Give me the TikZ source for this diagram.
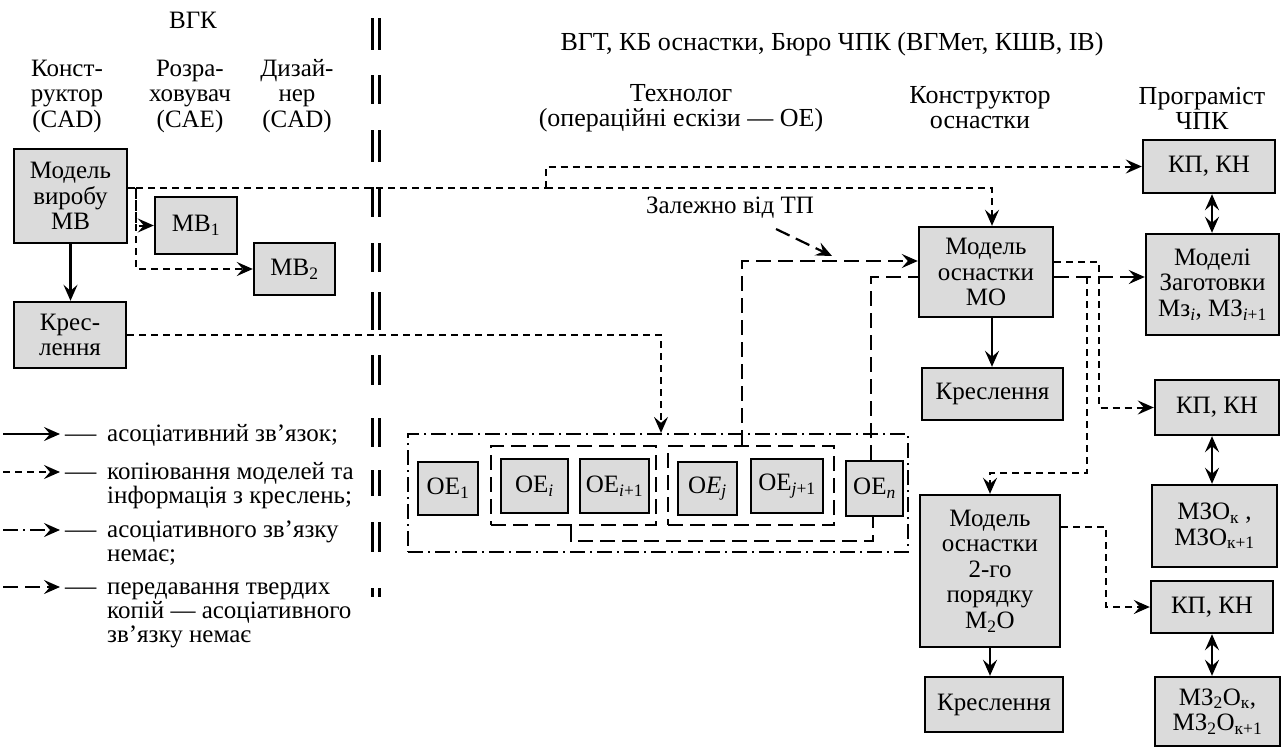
\documentclass[tikz,border=0pt]{standalone}
\usepackage{fontspec}
\setmainfont{Liberation Serif}
\usetikzlibrary{arrows.meta,calc}
\definecolor{boxgray}{RGB}{219,219,219}
\newcommand\sbs[1]{\textsubscript{#1}}
\newcommand\lgdash{\scalebox{1.25}[1]{—}}

\begin{document}
\begin{tikzpicture}[x=1pt,y=-1pt,
  every node/.style={font=\fontsize{25}{25.5}\selectfont, inner sep=0pt, align=center},
  hdr/.style={font=\fontsize{26}{25}\selectfont},
  box/.style={draw, line width=2.4pt, fill=boxgray},
  >={Stealth[length=16pt,width=14pt,inset=6pt]},
  assoc/.style={line width=2.2pt},
  copy/.style={line width=2pt, dash pattern=on 7pt off 5pt},
  hard/.style={line width=2.2pt, dash pattern=on 15pt off 7pt},
  dashdot/.style={line width=2.2pt, dash pattern=on 15pt off 5pt on 2pt off 5pt},
  grp/.style={draw, hard},
]
\useasboundingbox (0,0) rectangle (1281,750);

% ---- headers ----
\node (hvgk) at (193,20) {ВГК};
\node (hc1) at (67,96) {Конст-\\руктор\\(CAD)};
\node (hc2) at (190,96) {Розра-\\ховувач\\(CAE)};
\node (hc3) at (297,96) {Дизай-\\нер\\(CAD)};
\node[hdr] (hvgt) at (832,44) {ВГТ, КБ оснастки, Бюро ЧПК (ВГМет, КШВ, ІВ)};
\node[hdr] (htech) at (681,108) {Технолог\\(операційні ескізи — ОЕ)};
\node[hdr] (hkon) at (980,108) {Конструктор\\оснастки};
\node[hdr] (hprog) at (1202,108) {Програміст\\ЧПК};

% ---- department separator ----
\foreach \a/\b in {18/50, 75/104, 130/162, 187/217, 243/272, 292/330, 355/385, 418/447, 470/496, 522/552, 588/597}{
  \draw[line width=3pt] (372.5,\a) -- (372.5,\b);
  \draw[line width=3pt] (379.5,\a) -- (379.5,\b);
}

% ---- product design ----
\node[box, minimum width=113pt, minimum height=94pt] (mv) at (70.5,196) {Модель\\виробу\\МВ};
\node[box, minimum width=82pt, minimum height=57pt] (mv1) at (196,225.5) {МВ\sbs{1}};
\node[box, minimum width=81pt, minimum height=52pt] (mv2) at (294.5,269) {МВ\sbs{2}};
\node[box, minimum width=112pt, minimum height=66pt] (kr1) at (70,335) {Крес-\\лення};

% ---- operation sketches ----
\node[draw, dashdot, minimum width=500pt, minimum height=118pt] (oebox) at (658,493) {};
\node[grp, minimum width=165pt, minimum height=79pt] (gi) at (573.5,485.5) {};
\node[grp, minimum width=166pt, minimum height=79pt] (gj) at (751,485.5) {};
\node[box, minimum width=60pt, minimum height=53pt] (oe1) at (448,488.5) {ОЕ\sbs{1}};
\node[box, minimum width=67pt, minimum height=54pt] (oei) at (534.5,486) {ОЕ\sbs{\textit{i}}};
\node[box, minimum width=69pt, minimum height=54pt] (oei1) at (614.5,486) {ОЕ\sbs{\textit{i}+1}};
\node[box, minimum width=59pt, minimum height=53pt] (oej) at (707.5,488.5) {О\textit{E}\sbs{\textit{j}}};
\node[box, minimum width=72pt, minimum height=54pt] (oej1) at (787,486) {ОЕ\sbs{\textit{j}+1}};
\node[box, minimum width=57pt, minimum height=55pt] (oen) at (874.5,488.5) {ОЕ\sbs{\textit{n}}};

% ---- tooling design ----
\node[box, minimum width=134pt, minimum height=90pt] (mo) at (986,272) {Модель\\оснастки\\МО};
\node[box, minimum width=141pt, minimum height=52pt] (kr2) at (992.5,394) {Креслення};
\node[box, minimum width=140pt, minimum height=152pt] (m2o) at (990,571) {Модель\\оснастки\\2-го\\порядку\\М\sbs{2}О};
\node[box, minimum width=138pt, minimum height=55pt] (kr3) at (994,704.5) {Креслення};

% ---- CNC programming ----
\node[box, minimum width=132pt, minimum height=53pt] (kpkn1) at (1209,166.5) {КП, КН};
\node[box, minimum width=133pt, minimum height=101pt] (mz) at (1212.5,284.5) {Моделі\\Заготовки\\Мз\sbs{\textit{i}}, МЗ\sbs{\textit{i}+1}};
\node[box, minimum width=124pt, minimum height=55pt] (kpkn2) at (1217,407.5) {КП, КН};
\node[box, minimum width=125pt, minimum height=82pt] (mzo) at (1214.5,526) {МЗО\sbs{к} ,\\МЗО\sbs{к+1}};
\node[box, minimum width=122pt, minimum height=52pt] (kpkn3) at (1212,607) {КП, КН};
\node[box, minimum width=125pt, minimum height=69pt] (mz2o) at (1217.5,711.5) {МЗ\sbs{2}О\sbs{к},\\МЗ\sbs{2}О\sbs{к+1}};

\node (dep) at (730,208) {Залежно від ТП};

% ---- routing points ----
\coordinate (jv) at (136,188);
\coordinate (jt) at (546,188);
\coordinate (cmo) at (992,0);
\coordinate (cdrop) at (661,0);
\coordinate (cj) at (742,261);
\coordinate (cn) at (871,277);
\coordinate (cr1) at (1099,262);
\coordinate (cr2) at (1087,277);
\coordinate (cr2b) at (1087,473);
\coordinate (cr3) at (1106,527);
\coordinate (cb) at (571,541);
\coordinate (cb2) at (873,541);
\coordinate (cdd) at (1212,0);
\coordinate (depfrom) at (776,229);
\coordinate (depto) at (832,256);

% ---- connectors ----
\draw[copy,->] (mv.east |- jv) -- (jv) |- (mv1.west);
\draw[copy,->] (jv) |- (mv2.west);
\draw[copy] (jv) -- (jt);
\draw[copy,->] (jt) |- (kpkn1.west);
\draw[copy,->] (jt) -| (mo.north -| cmo);
\draw[assoc,->] (mv.south) -- (mv.south |- kr1.north);
\draw[copy,->] (kr1.east) -| (oebox.north -| cdrop);
\draw[hard,->] (gj.north -| cj) |- (mo.west |- cj);
\draw[hard] (oen.north -| cn) |- (mo.west |- cn);
\draw[hard,->] (mo.east |- cn) -- (mz.west |- cn);
\draw[copy,->] (cr2) -- (cr2b) -| (m2o.north);
\draw[copy,->] (mo.east |- cr1) -- (cr1) |- (kpkn2.west);
\draw[assoc,->] (mo.south -| cmo) -- (kr2.north -| cmo);
\draw[assoc,->] (m2o.south) -- (kr3.north -| m2o.south);
\draw[copy,->] (m2o.east |- cr3) -- (cr3) |- (kpkn3.west);
\draw[hard] (gi.south -| cb) -- (cb) -- (cb2) -- (oen.south -| cb2);
\draw[assoc,<->] (kpkn1.south -| cdd) -- (mz.north -| cdd);
\draw[assoc,<->] (kpkn2.south -| cdd) -- (mzo.north -| cdd);
\draw[assoc,<->] (kpkn3.south -| cdd) -- (mz2o.north -| cdd);
\draw[hard,->] (depfrom) -- (depto);

% ---- legend ----
\coordinate (la1) at (3,434);  \coordinate (lb1) at (60,434);
\coordinate (la2) at (3,472);  \coordinate (lb2) at (60,472);
\coordinate (la3) at (3,530);  \coordinate (lb3) at (60,530);
\coordinate (la4) at (3,587);  \coordinate (lb4) at (60,587);
\draw[assoc,->] (la1) -- (lb1);
\draw[copy,->] (la2) -- (lb2);
\draw[dashdot,->] (la3) -- (lb3);
\draw[hard,->] (la4) -- (lb4);
\node[anchor=base west] (ld1) at (65,441) {\lgdash};
\node[anchor=base west] (lt1) at (107,441) {асоціативний зв’язок;};
\node[anchor=base west] (ld2) at (65,479) {\lgdash};
\node[anchor=base west] (lt2) at (107,479) {копіювання моделей та};
\node[anchor=base west] (lt2b) at (107,503) {інформація з креслень;};
\node[anchor=base west] (ld3) at (65,537) {\lgdash};
\node[anchor=base west] (lt3) at (107,537) {асоціативного зв’язку};
\node[anchor=base west] (lt3b) at (107,561) {немає;};
\node[anchor=base west] (ld4) at (65,594) {\lgdash};
\node[anchor=base west] (lt4) at (107,594) {передавання твердих};
\node[anchor=base west] (lt4b) at (107,618) {копій — асоціативного};
\node[anchor=base west] (lt4c) at (107,642) {зв’язку немає};
\end{tikzpicture}
\end{document}
